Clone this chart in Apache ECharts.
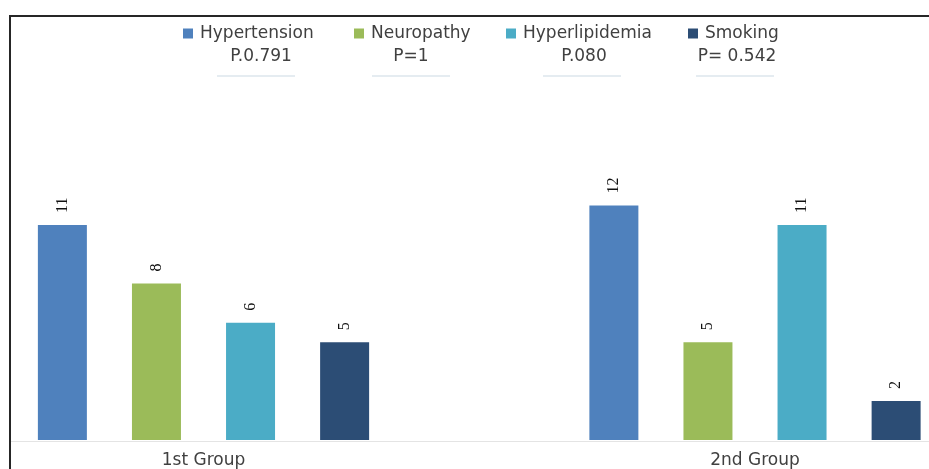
<!DOCTYPE html>
<html>
<head>
<meta charset="utf-8">
<script src="https://cdn.jsdelivr.net/npm/echarts@6/dist/echarts.min.js"></script>
<style>
  html, body { margin: 0; padding: 0; background: #fff; }
  #main { width: 929px; height: 469px; }
</style>
</head>
<body>
<div id="main"></div>
<script>
const categories = ['1st Group', '2nd Group'];
const seriesNames = ['Hypertension', 'Neuropathy', 'Hyperlipidemia', 'Smoking'];
const hypertension = [11, 12];
const neuropathy = [8, 5];
const hyperlipidemia = [6, 11];
const smoking = [5, 2];
const pValues = ['P.0.791', 'P=1', 'P.080', 'P= 0.542'];

const colors = ['#4f81bd', '#9bbb59', '#4bacc6', '#2c4d75'];
const values = [hypertension, neuropathy, hyperlipidemia, smoking];
const font = 'DejaVu Sans';

// legend item left edges, p-value text and underline centers
const legendLeft = [183, 354, 506, 688];
const pCenter = [261, 411, 584, 737];
const lineCenter = [256, 411, 582, 735];

const chart = echarts.init(document.getElementById('main'));

const legends = seriesNames.map((name, i) => ({
  data: [name],
  left: legendLeft[i],
  top: 25,
  padding: 0,
  itemWidth: 10,
  itemHeight: 10,
  icon: 'rect',
  textStyle: { color: '#404040', fontSize: 17, fontFamily: font, padding: [0, 0, 0, 2] },
  selectedMode: false
}));

const graphics = [{
  type: 'polyline',
  shape: { points: [[10, 469], [10, 16], [929, 16]] },
  style: { stroke: '#262626', lineWidth: 2, fill: null }
}, {
  type: 'line',
  shape: { x1: 11, y1: 441.5, x2: 929, y2: 441.5 },
  style: { stroke: '#e4e4e4', lineWidth: 1 }
}];
pValues.forEach((p, i) => {
  graphics.push({
    type: 'text',
    x: pCenter[i],
    y: 57,
    style: {
      text: p, fill: '#404040', fontSize: 17, fontFamily: font,
      align: 'center', verticalAlign: 'middle'
    }
  });
  graphics.push({
    type: 'line',
    shape: { x1: lineCenter[i] - 39, y1: 76, x2: lineCenter[i] + 39, y2: 76 },
    style: { stroke: '#dce6ec', lineWidth: 1.5 }
  });
});

chart.setOption({
  backgroundColor: '#fff',
  animation: false,
  color: colors,
  legend: legends,
  graphic: graphics,
  grid: { left: 203.5, width: 551.5, top: 49, bottom: 28, containLabel: false },
  xAxis: {
    type: 'category',
    data: categories,
    boundaryGap: false,
    axisTick: { show: false },
    axisLine: { show: false },
    axisLabel: { color: '#404040', fontSize: 17, fontFamily: font, margin: 12 }
  },
  yAxis: {
    type: 'value',
    min: 0,
    max: 20,
    show: false,
    splitLine: { show: false }
  },
  series: seriesNames.map((name, i) => ({
    name: name,
    type: 'bar',
    data: values[i],
    barWidth: 49,
    barGap: '92%',
    label: {
      show: true,
      position: 'top',
      rotate: 90,
      align: 'left',
      verticalAlign: 'middle',
      distance: 12,
      color: '#111',
      fontSize: 16,
      fontFamily: 'Liberation Serif'
    }
  }))
});

window.onresize = () => {
  chart.resize();
};
</script>
</body>
</html>
